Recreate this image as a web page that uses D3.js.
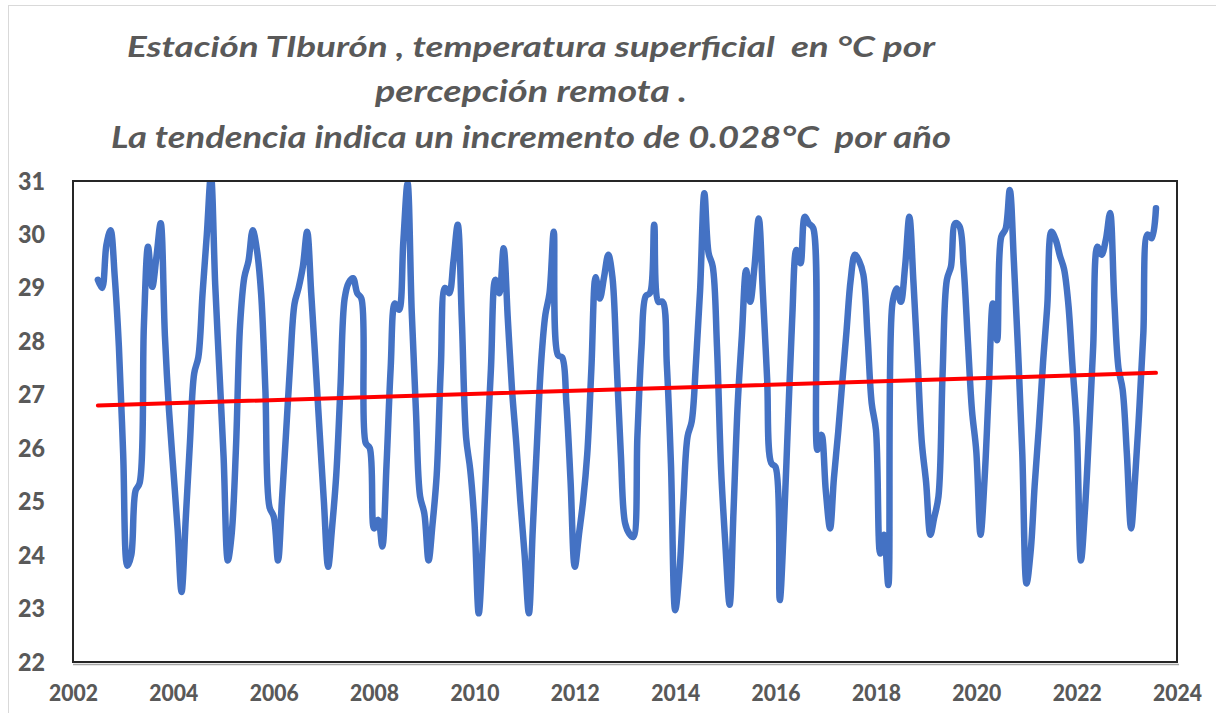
<!DOCTYPE html>
<html><head><meta charset="utf-8">
<script src="https://cdn.jsdelivr.net/npm/d3@7"></script>
<style>
html,body{margin:0;padding:0;background:#fff;}
svg{display:block;font-family:Lato,"Open Sans",sans-serif;}
</style></head><body>
<svg id="chart" width="1216" height="713"></svg>
<script>
// ---- data ----
const titleLines = [
  "Estación TIburón , temperatura superficial  en °C por",
  "percepción remota .",
  "La tendencia indica un incremento de 0.028°C  por año"
];
// monthly SST (°C); 2002 starts in July, 2023 ends in August
const sst2002 = [29.15, 29.0, 29.8, 30.08, 29.2, 27.9];
const sst2003 = [25.9, 23.8, 24.0, 25.2, 25.35, 28.3, 29.77, 29.02, 29.6, 30.21, 28.1, 26.7];
const sst2004 = [25.6, 24.5, 23.31, 24.7, 26.1, 27.4, 27.7, 28.9, 30.0, 31.1, 29.06, 27.47];
const sst2005 = [25.84, 23.9, 24.4, 26.0, 28.3, 29.2, 29.5, 30.08, 29.7, 28.9, 27.1, 24.9];
const sst2006 = [24.72, 23.9, 25.0, 26.3, 27.6, 28.7, 29.0, 29.4, 30.05, 28.89, 27.6, 26.3];
const sst2007 = [25.0, 23.78, 24.5, 25.5, 27.1, 28.8, 29.1, 29.18, 28.9, 28.8, 26.1, 26.0];
const sst2008 = [24.5, 24.66, 24.16, 25.7, 27.5, 28.71, 28.59, 29.86, 30.96, 28.57, 26.7, 25.1];
const sst2009 = [24.78, 23.9, 24.56, 25.5, 27.5, 29.0, 28.9, 29.5, 30.18, 28.4, 26.2, 25.6];
const sst2010 = [24.6, 22.91, 24.1, 25.9, 27.5, 29.15, 28.9, 29.74, 28.4, 27.1, 26.1, 25.0];
const sst2011 = [24.0, 22.91, 24.47, 26.1, 27.6, 28.5, 28.9, 30.05, 27.74, 27.7, 26.83, 25.4];
const sst2012 = [23.78, 24.4, 25.0, 25.9, 27.5, 29.2, 28.8, 29.2, 29.62, 29.2, 27.57, 25.9];
const sst2013 = [24.6, 24.4, 24.34, 26.24, 27.9, 28.85, 28.9, 30.18, 28.74, 28.74, 27.56, 25.7];
const sst2014 = [22.97, 23.7, 25.0, 26.22, 26.5, 27.6, 28.95, 30.77, 29.65, 29.4, 27.9, 25.6];
const sst2015 = [24.2, 23.07, 24.8, 26.84, 28.1, 29.33, 28.74, 29.4, 30.3, 28.9, 27.3, 25.72];
const sst2016 = [25.65, 23.16, 24.5, 26.5, 28.4, 29.71, 29.46, 30.33, 30.2, 30.12, 25.97, 26.25];
const sst2017 = [25.2, 24.5, 25.44, 26.3, 27.24, 28.2, 29.15, 29.62, 29.5, 29.25, 28.1, 26.84];
const sst2018 = [26.34, 24.03, 24.38, 23.44, 28.71, 28.99, 28.74, 29.4, 30.33, 29.1, 27.6, 26.1];
const sst2019 = [25.36, 24.38, 24.7, 25.1, 27.4, 29.15, 29.4, 30.21, 30.15, 29.4, 28.0, 26.7];
const sst2020 = [25.95, 24.38, 25.4, 27.1, 28.71, 28.02, 29.96, 30.1, 30.83, 29.48, 27.78, 25.9];
const sst2021 = [23.47, 24.1, 25.3, 26.4, 27.6, 28.67, 30.05, 29.9, 29.6, 29.35, 28.7, 27.55];
const sst2022 = [26.4, 23.9, 24.8, 26.3, 27.9, 29.77, 29.62, 29.9, 30.4, 28.8, 27.5, 27.1];
const sst2023 = [25.9, 24.5, 25.4, 26.7, 28.15, 30.0, 29.93, 30.49];
const startYear = 2002, startMonth = 6; // July (0-based month)

const trendYears = [2002, 2023];
const trendMonths = [6, 7];          // Jul 2002 -> Aug 2023
const trendValues = [26.8, 27.41];

const yTicks = [22, 23, 24, 25, 26, 27, 28, 29, 30, 31];
const xTickYears = [2002, 2004, 2006, 2008, 2010, 2012, 2014, 2016, 2018, 2020, 2022, 2024];

// ---- build ----
const allValues = [].concat(sst2002, sst2003, sst2004, sst2005, sst2006, sst2007, sst2008,
  sst2009, sst2010, sst2011, sst2012, sst2013, sst2014, sst2015, sst2016, sst2017,
  sst2018, sst2019, sst2020, sst2021, sst2022, sst2023);
const series = allValues.map((v, i) => ({date: new Date(startYear, startMonth + i, 1), value: v}));
const trend = trendValues.map((v, i) => ({date: new Date(trendYears[i], trendMonths[i], 1), value: v}));

const W = 1216, H = 713;
const plot = {left: 73, right: 1177, top: 181, bottom: 662};
const svg = d3.select("#chart");

svg.append("rect").attr("width", W).attr("height", H).attr("fill", "#fff");
svg.append("rect").attr("x", 8.5).attr("y", 5.5).attr("width", W).attr("height", H)
  .attr("fill", "none").attr("stroke", "#d9d9d9").attr("stroke-width", 1);

const x = d3.scaleTime()
  .domain([new Date(xTickYears[0], 0, 1), new Date(xTickYears[xTickYears.length - 1], 0, 1)])
  .range([plot.left, plot.right]);
const y = d3.scaleLinear().domain([yTicks[0], yTicks[yTicks.length - 1]]).range([plot.bottom, plot.top]);

// title
const titleSizes = [29, 31, 31];
const titleWidths = [808, 312, 840];
const titleBaselines = [57, 102, 148];
titleLines.forEach((t, i) => {
  svg.append("text")
    .attr("x", 531).attr("y", titleBaselines[i])
    .attr("text-anchor", "middle")
    .attr("font-size", titleSizes[i]).attr("font-weight", "bold").attr("font-style", "italic")
    .attr("fill", "#595959")
    .attr("textLength", titleWidths[i]).attr("lengthAdjust", "spacingAndGlyphs")
    .style("white-space", "pre")
    .text(t);
});

// axes
const yAxis = svg.append("g").attr("transform", `translate(45,0)`)
  .call(d3.axisLeft(y).tickValues(yTicks).tickFormat(d3.format("d")).tickSize(0).tickPadding(0));
yAxis.select(".domain").remove();
yAxis.selectAll("text")
  .attr("font-family", "Lato, 'Open Sans', sans-serif")
  .attr("font-size", 25).attr("font-weight", "900").attr("fill", "#595959")
  .attr("textLength", 27).attr("lengthAdjust", "spacingAndGlyphs");

const xAxis = svg.append("g").attr("transform", `translate(0,${plot.bottom})`)
  .call(d3.axisBottom(x).tickValues(xTickYears.map(yr => new Date(yr, 0, 1)))
    .tickFormat(d3.timeFormat("%Y")).tickSize(0).tickPadding(23));
xAxis.select(".domain").remove();
xAxis.selectAll("text")
  .attr("font-family", "Lato, 'Open Sans', sans-serif")
  .attr("font-size", 23).attr("font-weight", "900").attr("fill", "#595959")
  .attr("textLength", 49).attr("lengthAdjust", "spacingAndGlyphs");

// clip
svg.append("clipPath").attr("id", "clip").append("rect")
  .attr("x", plot.left).attr("y", plot.top)
  .attr("width", plot.right - plot.left).attr("height", plot.bottom - plot.top);

const line = d3.line().x(d => x(d.date)).y(d => y(d.value)).curve(d3.curveCatmullRom.alpha(0.5));
const straight = d3.line().x(d => x(d.date)).y(d => y(d.value));

svg.append("path").datum(series)
  .attr("clip-path", "url(#clip)")
  .attr("d", line).attr("fill", "none")
  .attr("stroke", "#4472C4").attr("stroke-width", 6.5)
  .attr("stroke-linejoin", "round").attr("stroke-linecap", "round");

svg.append("path").datum(trend)
  .attr("d", straight).attr("fill", "none")
  .attr("stroke", "#FF0000").attr("stroke-width", 4)
  .attr("stroke-linecap", "round");

// frame
svg.append("line").attr("x1", plot.left).attr("x2", plot.right + 2)
  .attr("y1", plot.bottom + 2.5).attr("y2", plot.bottom + 2.5)
  .attr("stroke", "#a6a6a6").attr("stroke-width", 1.5);
svg.append("rect").attr("x", plot.left).attr("y", plot.top)
  .attr("width", plot.right - plot.left).attr("height", plot.bottom - plot.top)
  .attr("fill", "none").attr("stroke", "#262626").attr("stroke-width", 2);
</script>
</body></html>
